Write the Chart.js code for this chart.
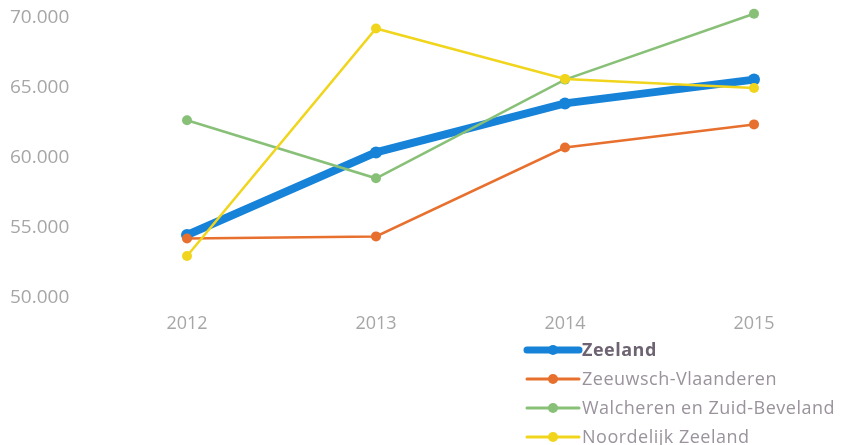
<!DOCTYPE html>
<html>
<head>
<meta charset="utf-8">
<script src="https://cdn.jsdelivr.net/npm/chart.js@4/dist/chart.umd.min.js"></script>
<style>
  html, body { margin: 0; padding: 0; background: #fff; }
  #wrap { width: 841px; height: 445px; position: relative; }
</style>
</head>
<body>
<div id="wrap"><canvas id="c"></canvas></div>
<script>
// jaren op de x-as
const years = ['2012', '2013', '2014', '2015'];

// waarden per regio
const zeeland = [54500, 60400, 63900, 65600];
const zeeuwschVlaanderen = [54250, 54400, 60750, 62400];
const walcheren = [62700, 58550, 65600, 70300];
const noordelijk = [53000, 69250, 65650, 65000];

const seriesNames = ['Zeeland', 'Zeeuwsch-Vlaanderen', 'Walcheren en Zuid-Beveland', 'Noordelijk Zeeland'];
const seriesColors = ['#1683d8', '#e8702e', '#88c078', '#f1d51c'];

// y-as: 50.000 t/m 70.000 in stappen van 5.000
const yMin = 50000, yMax = 70000, yStep = 5000;

const fmt = (v) => v.toLocaleString('nl-NL');

// eigen legenda: verticale lijst rechtsonder
const legendPlugin = {
  id: 'vertLegend',
  afterDraw(chart) {
    const ctx = chart.ctx;
    const x0 = 527, lineLen = 52, rowH = 29, y0 = 350;
    ctx.save();
    chart.data.datasets.forEach((ds, i) => {
      const y = y0 + i * rowH;
      ctx.strokeStyle = ds.borderColor;
      ctx.lineWidth = i === 0 ? 7 : 3;
      ctx.lineCap = 'round';
      ctx.beginPath(); ctx.moveTo(x0, y); ctx.lineTo(x0 + lineLen, y); ctx.stroke();
      ctx.fillStyle = ds.borderColor;
      ctx.beginPath(); ctx.arc(x0 + lineLen / 2, y, 5, 0, Math.PI * 2); ctx.fill();
      ctx.font = (i === 0 ? 'bold ' : '') + '18px "Open Sans"';
      ctx.letterSpacing = '0.5px';
      ctx.fillStyle = i === 0 ? '#6e6372' : '#9a939c';
      ctx.textAlign = 'left';
      ctx.textBaseline = 'middle';
      ctx.fillText(ds.label, x0 + lineLen + 3, y + 1);
    });
    ctx.restore();
  }
};

const allData = [zeeland, zeeuwschVlaanderen, walcheren, noordelijk];

new Chart(document.getElementById('c'), {
  type: 'line',
  data: {
    labels: years,
    datasets: allData.map((d, i) => ({
      label: seriesNames[i],
      data: d,
      borderColor: seriesColors[i],
      backgroundColor: seriesColors[i],
      borderWidth: i === 0 ? 8 : 2.5,
      pointRadius: i === 0 ? 6 : 5,
      pointBorderWidth: 0,
      tension: 0,
      clip: false,
      order: 4 - i
    }))
  },
  plugins: [legendPlugin],
  options: {
    responsive: true,
    maintainAspectRatio: false,
    animation: false,
    events: [],
    layout: { padding: { top: 18, right: 87, bottom: 0, left: 10 } },
    scales: {
      x: {
        grid: { display: false, drawTicks: false },
        border: { display: false },
        ticks: { color: '#a6a6a6', font: { family: 'Open Sans', size: 18 }, padding: 15 },
        afterFit(s) { s.height = 147; }
      },
      y: {
        min: yMin, max: yMax,
        grid: { display: false, drawTicks: false },
        border: { display: false },
        ticks: {
          stepSize: yStep,
          color: '#a6a6a6',
          font: { family: 'Open Sans', size: 19 },
          padding: 0,
          crossAlign: 'far',
          callback: (v) => fmt(v)
        },
        afterFit(s) { s.width = 177; }
      }
    },
    plugins: {
      legend: { display: false },
      tooltip: { enabled: false }
    }
  }
});
</script>
</body>
</html>
